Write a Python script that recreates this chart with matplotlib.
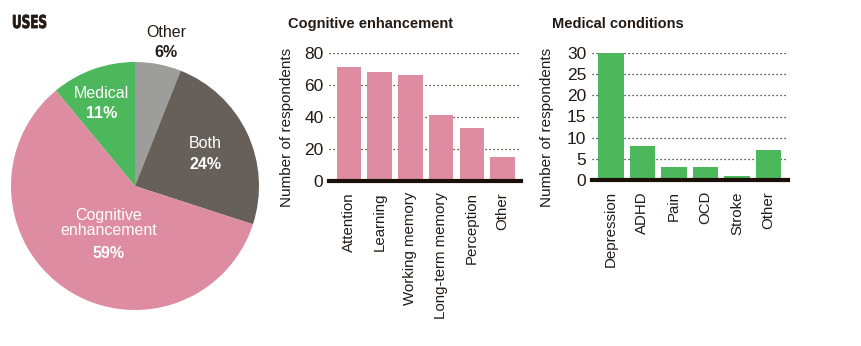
import numpy as np
import matplotlib
matplotlib.use("Agg")
from matplotlib import pyplot as plt
from matplotlib.textpath import TextPath
from matplotlib.patches import PathPatch
from matplotlib.font_manager import FontProperties
from matplotlib.transforms import Affine2D

plt.rcParams['font.family'] = ['Liberation Sans', 'DejaVu Sans']

# Survey data
use_labels = ["Other", "Both", "Cognitive\nenhancement", "Medical"]
use_shares = [6, 24, 59, 11]

cog_labels = ["Attention", "Learning", "Working memory", "Long-term memory", "Perception", "Other"]
cog_counts = [71, 68, 66, 41, 33, 15]

med_labels = ["Depression", "ADHD", "Pain", "OCD", "Stroke", "Other"]
med_counts = [30, 8, 3, 3, 1, 7]

PINK = "#dd8ca2"
BROWN = "#675f59"
GREY = "#9d9d9c"
GREEN = "#4db85b"
INK = "#231a14"

W, H = 862, 346
fig = plt.figure(figsize=(W / 100, H / 100), dpi=100)

def px_axes(x0, y0, x1, y1):
    # axes from pixel box (top-left origin)
    return fig.add_axes([x0 / W, 1 - y1 / H, (x1 - x0) / W, (y1 - y0) / H])

# ---- pie ----
ax_pie = px_axes(11, 62, 259, 310)
ax_pie.pie(use_shares, colors=[GREY, BROWN, PINK, GREEN], startangle=90,
           counterclock=False, radius=1.0,
           wedgeprops=dict(linewidth=0))
ax_pie.set_xlim(-1, 1)
ax_pie.set_ylim(-1, 1)
ax_pie.set_aspect("equal")
ax_pie.axis("off")

label_pos = [(0.25, 1.24), (0.57, 0.34), (-0.21, -0.30), (-0.27, 0.75)]
label_col = [INK, "white", "white", "white"]
for name, share, (lx, ly), c in zip(use_labels, use_shares, label_pos, label_col):
    n_lines = name.count("\n") + 1
    ax_pie.text(lx, ly, name, ha="center", va="center", fontsize=11.5,
                color=c, linespacing=1.0, clip_on=False)
    ax_pie.text(lx, ly - 0.085 - 0.078 * n_lines, f"{share}%", ha="center",
                va="center", fontsize=11.5, fontweight="bold", color=c,
                clip_on=False)

# narrow heavy heading, squeezed horizontally
uses_path = TextPath((0, 0), "USES", size=17.8,
                     prop=FontProperties(family="DejaVu Sans", weight="bold"))
uses_tf = Affine2D().scale(0.67, 1.0).translate(12, H - 28)
fig.add_artist(PathPatch(uses_path, transform=uses_tf, facecolor=INK,
                         edgecolor=INK, linewidth=0.6))


def bar_panel(box, labels, counts, color, yticks, title, title_x, label_x, xlim):
    x0, y0, x1, y1 = box
    ax = px_axes(*box)
    x = np.arange(len(labels))
    ax.bar(x, counts, width=0.8, color=color, zorder=2)
    ax.set_xlim(*xlim)
    ax.set_ylim(0, yticks[-1])
    ax.set_yticks(yticks)
    ax.set_xticks(x)
    ax.set_xticklabels(labels, rotation=90, color=INK)
    ax.tick_params(axis="both", length=0, colors=INK)
    ax.tick_params(axis="x", pad=8, labelsize=10.8)
    ax.tick_params(axis="y", pad=4, labelsize=12.5)
    ax.grid(axis="y", linestyle=(0, (1, 2.2)), color=INK, linewidth=0.9, zorder=0)
    for s in ["top", "right", "left"]:
        ax.spines[s].set_visible(False)
    ax.spines["bottom"].set_linewidth(3)
    ax.spines["bottom"].set_color("#1a1008")
    ax.spines["bottom"].set_zorder(3)
    ax.set_ylabel("Number of respondents", fontsize=11, color=INK)
    ax.yaxis.set_label_coords((label_x - x0) / (x1 - x0), (y1 - 127) / (y1 - y0))
    fig.text(title_x / W, 1 - 24 / H, title, fontsize=10.5, fontweight="bold",
             color=INK, ha="left", va="center")
    return ax


ax1 = bar_panel((329, 53, 521, 181), cog_labels, cog_counts, PINK,
                [0, 20, 40, 60, 80], "Cognitive enhancement", 288, 294, (-0.65, 5.6))
ax2 = bar_panel((592, 53, 788, 180), med_labels, med_counts, GREEN,
                [0, 5, 10, 15, 20, 25, 30], "Medical conditions", 552, 554, (-0.6, 5.62))

fig.savefig("out.png", dpi=100, facecolor="white")
